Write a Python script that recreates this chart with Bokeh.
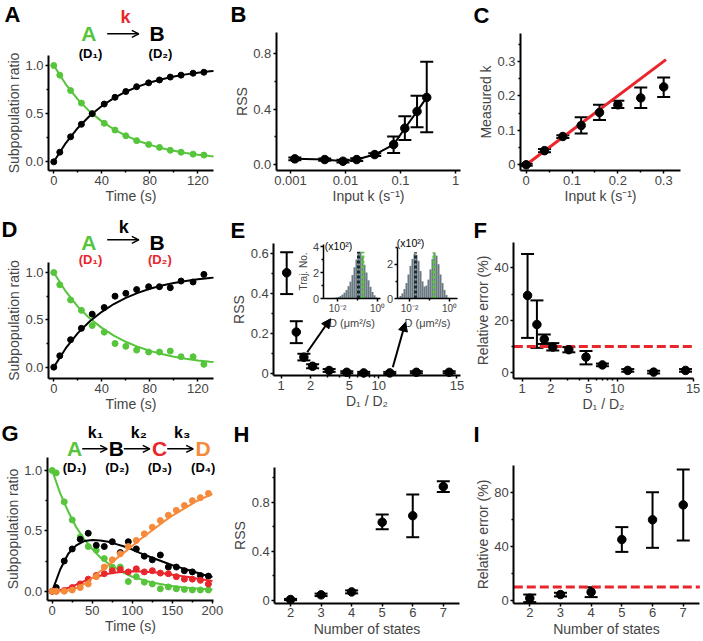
import math
from bokeh.plotting import figure
from bokeh.models import (Range1d, FixedTicker, Label, Arrow, OpenHead, NormalHead,
                          TeeHead, Whisker, ColumnDataSource, LinearAxis, LogAxis, LogScale)
from bokeh.layouts import row, column
from bokeh.embed import file_html
from bokeh.resources import INLINE

FONT = "Liberation Sans"
GREEN = "#56c53b"
RED = "#e8262b"
ORANGE = "#f68a3b"
GRAY = "#6b7a82"
DARK = "#1c2b31"

# ---------------- data ----------------
# Panel A
A_TIME = [0, 5, 14, 23, 32, 42, 51, 60, 69, 79, 88, 97, 106, 116, 125]
A_GREEN = [1.00, 0.90, 0.74, 0.61, 0.50, 0.40, 0.33, 0.27, 0.22, 0.18, 0.15, 0.12, 0.10, 0.08, 0.07]
A_BLACK = [0.00, 0.10, 0.26, 0.39, 0.50, 0.60, 0.67, 0.73, 0.78, 0.82, 0.85, 0.88, 0.90, 0.92, 0.93]
A_FIT_T = [0, 10, 20, 30, 40, 50, 60, 70, 80, 90, 100, 110, 120, 130, 133]
A_FIT_GREEN = [1.0, 0.805, 0.648, 0.521, 0.42, 0.338, 0.272, 0.219, 0.176, 0.142, 0.114, 0.092, 0.074, 0.06, 0.056]
A_FIT_BLACK = [0.0, 0.195, 0.352, 0.479, 0.58, 0.662, 0.728, 0.781, 0.824, 0.858, 0.886, 0.908, 0.926, 0.94, 0.944]

# Panel B
B_K = [0.0012, 0.0042, 0.009, 0.016, 0.034, 0.075, 0.12, 0.2, 0.3]
B_RSS = [0.041, 0.036, 0.024, 0.036, 0.072, 0.144, 0.262, 0.384, 0.485]
B_LO = [0.031, 0.028, 0.014, 0.026, 0.062, 0.084, 0.178, 0.269, 0.233]
B_HI = [0.051, 0.044, 0.034, 0.046, 0.082, 0.202, 0.348, 0.497, 0.742]

# Panel C
C_K = [0.0, 0.04, 0.08, 0.12, 0.16, 0.2, 0.25, 0.3]
C_MEAS = [0.0, 0.041, 0.082, 0.114, 0.152, 0.174, 0.194, 0.226]
C_LO = [-0.003, 0.036, 0.078, 0.091, 0.130, 0.165, 0.165, 0.197]
C_HI = [0.003, 0.046, 0.086, 0.138, 0.174, 0.186, 0.224, 0.253]
C_IDENT = [0.0, 0.305]

# Panel D
D_TIME = A_TIME
D_GREEN = [1.0, 0.87, 0.71, 0.60, 0.44, 0.37, 0.25, 0.22, 0.18, 0.16, 0.16, 0.17, 0.11, 0.11, 0.03]
D_BLACK = [0.0, 0.12, 0.29, 0.41, 0.56, 0.63, 0.75, 0.78, 0.82, 0.85, 0.85, 0.84, 0.91, 0.90, 0.98]
D_FIT_T = A_FIT_T
D_FIT_GREEN = [1.0, 0.80, 0.64, 0.515, 0.415, 0.333, 0.268, 0.215, 0.172, 0.138, 0.111, 0.089, 0.071, 0.057, 0.054]
D_FIT_BLACK = [0.0, 0.20, 0.36, 0.485, 0.585, 0.667, 0.732, 0.785, 0.828, 0.862, 0.889, 0.911, 0.929, 0.943, 0.946]

# Panels E / F (D1/D2 ratio)
RATIO = [1.14, 1.43, 1.71, 2.1, 3.1, 4.7, 7.0, 10.7, 12.4, 14.5]
E_RSS = [0.503, 0.208, 0.083, 0.038, 0.017, 0.008, 0.005, 0.005, 0.008, 0.008]
E_LO = [0.397, 0.153, 0.067, 0.028, 0.010, 0.003, 0.0, 0.0, 0.003, 0.003]
E_HI = [0.605, 0.262, 0.100, 0.048, 0.024, 0.013, 0.010, 0.010, 0.013, 0.013]
F_ERR = [29.5, 18.4, 12.8, 9.8, 8.8, 6.0, 3.0, 0.9, 0.25, 0.9]
F_LO = [13.3, 9.5, 11.0, 8.5, 7.8, 3.2, 2.5, 0.4, -0.25, 0.4]
F_HI = [45.3, 27.6, 14.6, 11.3, 9.8, 8.3, 3.5, 1.4, 0.75, 1.4]
THRESHOLD = 10
RATIO_TICKS = [1, 2, 5, 10, 15]
RATIO_MINOR = [3, 4, 6, 7, 8, 9]

# E insets: histograms of log10 D (bin centres) and counts (x10^2)
H1_LOGD = [-2.35, -2.25, -2.15, -2.05, -1.95, -1.85, -1.75, -1.65, -1.55, -1.45, -1.35, -1.25,
           -1.15, -1.05, -0.95, -0.85, -0.75, -0.65, -0.55, -0.45, -0.35, -0.25, -0.15, -0.05]
H1_COUNT = [0.0, 0.02, 0.05, 0.08, 0.12, 0.2, 0.3, 0.45, 0.65, 0.95, 1.3, 1.8,
            2.4, 3.0, 3.5, 3.6, 3.2, 2.6, 2.0, 1.4, 0.9, 0.5, 0.25, 0.08]
H1_DASH_D = [0.112, 0.186]
H1_DASH_H = 3.6
H2_LOGD = [-2.55, -2.45, -2.35, -2.25, -2.15, -2.05, -1.95, -1.85, -1.75, -1.65, -1.55, -1.45, -1.35,
           -1.25, -1.15, -1.05, -0.95, -0.85, -0.75, -0.65, -0.55, -0.45, -0.35, -0.25, -0.15, -0.05]
H2_COUNT = [0.05, 0.15, 0.3, 0.55, 0.9, 1.4, 1.9, 2.3, 2.6, 2.55, 2.2, 1.6, 1.0,
            0.7, 0.75, 1.1, 1.7, 2.3, 2.65, 2.5, 2.0, 1.4, 0.9, 0.5, 0.2, 0.05]
H2_DASH_D = [0.02, 0.166]
H2_DASH_H = 2.7

# Panel G
G_TIME = [0, 5, 15, 25, 35, 45, 55, 65, 75, 85, 95, 105, 115, 125, 135, 145, 155, 165, 175, 185, 195]
G_GREEN = [1.0, 0.98, 0.74, 0.59, 0.45, 0.37, 0.34, 0.27, 0.20, 0.20, 0.08, 0.12, 0.075, 0.06, 0.02, 0.035, 0.02, 0.015, 0.01, 0.01, 0.01]
G_BLACK = [0.0, 0.03, 0.25, 0.35, 0.43, 0.48, 0.38, 0.37, 0.41, 0.32, 0.41, 0.35, 0.29, 0.26, 0.30, 0.20, 0.20, 0.17, 0.16, 0.13, 0.125]
G_RED = [0.0, 0.0, 0.005, 0.03, 0.06, 0.10, 0.13, 0.145, 0.17, 0.18, 0.16, 0.185, 0.16, 0.17, 0.15, 0.145, 0.12, 0.10, 0.10, 0.09, 0.06]
G_ORANGE = [0.0, 0.0, 0.0, 0.01, 0.03, 0.06, 0.12, 0.20, 0.26, 0.31, 0.37, 0.42, 0.475, 0.53, 0.585, 0.63, 0.67, 0.71, 0.75, 0.775, 0.81]
G_FIT_T = [0, 10, 20, 30, 40, 50, 60, 70, 80, 90, 100, 110, 120, 130, 140, 150, 160, 170, 180, 190, 200]
G_FIT_GREEN = [1.0, 0.81, 0.66, 0.53, 0.43, 0.35, 0.28, 0.23, 0.19, 0.15, 0.12, 0.10, 0.08, 0.065, 0.053, 0.043, 0.035, 0.028, 0.023, 0.018, 0.015]
G_FIT_BLACK = [0.0, 0.18, 0.31, 0.38, 0.415, 0.425, 0.42, 0.41, 0.39, 0.37, 0.345, 0.315, 0.29, 0.265, 0.24, 0.215, 0.195, 0.175, 0.155, 0.135, 0.118]
G_FIT_RED = [0.0, 0.008, 0.028, 0.055, 0.083, 0.108, 0.128, 0.144, 0.155, 0.162, 0.165, 0.164, 0.16, 0.154, 0.146, 0.137, 0.127, 0.117, 0.106, 0.095, 0.084]
G_FIT_ORANGE = [0.0, 0.0, 0.005, 0.025, 0.06, 0.11, 0.165, 0.215, 0.27, 0.32, 0.375, 0.43, 0.48, 0.53, 0.58, 0.625, 0.665, 0.705, 0.745, 0.775, 0.805]

# Panels H / I
STATES = [2, 3, 4, 5, 6, 7]
H_RSS = [0.008, 0.046, 0.07, 0.637, 0.69, 0.927]
H_LO = [0.003, 0.036, 0.058, 0.58, 0.515, 0.884]
H_HI = [0.013, 0.056, 0.082, 0.70, 0.862, 0.97]
I_ERR = [1.7, 4.4, 6.2, 45.0, 59.6, 70.6]
I_LO = [-1.2, 3.0, 2.5, 35.9, 38.9, 44.3]
I_HI = [4.4, 5.7, 9.8, 54.2, 80.0, 96.7]


# ---------------- helpers ----------------
def ratio_pos(r):
    # broken axis: logarithmic up to 10, linear beyond
    return math.log10(r) if r <= 10 else 1 + 0.16 * (r - 10)


class Panel:
    """Whole canvas is the plot frame; the axes are drawn at fixed locations inside it."""

    def __init__(self, W, H, box, data, xlog=False):
        fl, fr, ft, fb = box
        x0, x1, y0, y1 = data
        self.W, self.H, self.xlog = W, H, xlog
        if xlog:
            a, b = math.log10(x0), math.log10(x1)
            per = (b - a) / (fr - fl)
            xs, xe = 10 ** (a - fl * per), 10 ** (b + (W - fr) * per)
        else:
            per = (x1 - x0) / (fr - fl)
            xs, xe = x0 - fl * per, x1 + (W - fr) * per
        per = (y1 - y0) / (fb - ft)
        ys, ye = y0 - (H - fb) * per, y1 + ft * per
        self.xs, self.xe, self.ys, self.ye = xs, xe, ys, ye
        self.x0, self.x1, self.y0, self.y1 = x0, x1, y0, y1
        p = figure(width=W, height=H, x_range=Range1d(xs, xe), y_range=Range1d(ys, ye),
                   x_axis_type="log" if xlog else "linear", output_backend="svg",
                   toolbar_location=None, tools="", title=None)
        p.min_border_left = 0
        p.min_border_right = 0
        p.min_border_top = 0
        p.min_border_bottom = 0
        p.outline_line_color = None
        p.xgrid.visible = False
        p.ygrid.visible = False
        p.background_fill_color = "white"
        p.border_fill_color = "white"
        p.xaxis[0].fixed_location = y0
        p.xaxis[0].bounds = (x0, x1)
        p.yaxis[0].fixed_location = x0
        p.yaxis[0].bounds = (y0, y1)
        self.p = p

    def to_data(self, px, py):
        f = px / self.W
        if self.xlog:
            a, b = math.log10(self.xs), math.log10(self.xe)
            x = 10 ** (a + f * (b - a))
        else:
            x = self.xs + f * (self.xe - self.xs)
        g = (self.H - py) / self.H
        y = self.ys + g * (self.ye - self.ys)
        return x, y

    def text(self, px, py, s, size, color="black", bold=True, align="center", baseline="middle"):
        x, y = self.to_data(px, py)
        self.p.add_layout(Label(x=x, y=y, text=s, text_font=FONT, text_font_size=f"{size}px",
                                text_font_style="bold" if bold else "normal", text_color=color,
                                text_align=align, text_baseline=baseline))

    def arrow(self, sx, sy, ex, ey, head, width):
        x0, y0 = self.to_data(sx, sy)
        x1, y1 = self.to_data(ex, ey)
        self.p.add_layout(Arrow(end=head, x_start=x0, y_start=y0, x_end=x1, y_end=y1,
                                line_width=width, line_color="black"))

    def harrow(self, px0, px1, py):
        self.arrow(px0, py, px1, py, OpenHead(size=7, line_width=1.5, line_color="black"), 1.5)

    def letter(self, px, py, s):
        self.text(px, py, s, 22, align="left", baseline="middle")

    def threshold(self, level):
        self.p.segment(x0=[self.x0], y0=[level], x1=[self.x1], y1=[level], line_color=RED,
                       line_width=3, line_dash="9 4")


def style_axis(ax, label, tick_size=13, label_size=14):
    ax.axis_label = label
    ax.axis_label_text_font = FONT
    ax.axis_label_text_font_size = f"{label_size}px"
    ax.axis_label_text_font_style = "normal"
    ax.axis_label_standoff = 0
    ax.major_label_text_font = FONT
    ax.major_label_text_font_size = f"{tick_size}px"
    ax.major_label_standoff = 2
    ax.axis_line_width = 2
    ax.axis_line_color = "black"
    ax.major_tick_line_width = 1.5
    ax.minor_tick_line_width = 1.5
    ax.major_tick_out = 3
    ax.major_tick_in = 0
    ax.minor_tick_out = 2
    ax.minor_tick_in = 0


def set_ticks(ax, major, labels, minor=()):
    ax.ticker = FixedTicker(ticks=list(major), minor_ticks=list(minor))
    ax.major_label_overrides = {m: l for m, l in zip(major, labels)}


def setup(P, xlabel, ylabel, xt, xl, xm, yt, yl, ym):
    style_axis(P.p.xaxis[0], xlabel)
    style_axis(P.p.yaxis[0], ylabel)
    set_ticks(P.p.xaxis[0], xt, xl, xm)
    set_ticks(P.p.yaxis[0], yt, yl, ym)


def errbars(p, x, lo, hi, cap=13, width=2):
    src = ColumnDataSource(dict(x=list(x), lo=list(lo), hi=list(hi)))
    p.add_layout(Whisker(source=src, base="x", lower="lo", upper="hi",
                         line_width=width, line_color="black",
                         upper_head=TeeHead(size=cap, line_width=width, line_color="black"),
                         lower_head=TeeHead(size=cap, line_width=width, line_color="black")))


# ---------------- Panel A ----------------
PA = Panel(230, 210, (48, 213, 55, 170), (-4.4, 133, -0.09, 1.104))
setup(PA, "Time (s)", "Subpopulation ratio", [0, 40, 80, 120], ["0", "40", "80", "120"], [20, 60, 100],
      [0, 0.5, 1.0], ["0.0", "0.5", "1.0"], [0.25, 0.75])
PA.p.line(A_FIT_T, A_FIT_GREEN, line_width=2, color=GREEN)
PA.p.line(A_FIT_T, A_FIT_BLACK, line_width=2, color="black")
PA.p.scatter(A_TIME, A_GREEN, size=6, color=GREEN)
PA.p.scatter(A_TIME, A_BLACK, size=6, color="black")
PA.letter(4, 14, "A")
PA.text(125, 16, "k", 18, color=RED)
PA.text(88.3, 33.3, "A", 21, color=GREEN)
PA.harrow(106.7, 138.3, 33.3)
PA.text(156.7, 33.3, "B", 21)
PA.text(90, 53.3, "(D\u2081)", 13)
PA.text(160, 53.3, "(D\u2082)", 13)

# ---------------- Panel B ----------------
PB = Panel(235, 210, (45.7, 230, 31.7, 170), (5.5e-4, 1.233, -0.043, 0.956), xlog=True)
setup(PB, "Input k (s\u207b\u00b9)", "RSS", [0.001, 0.01, 0.1, 1], ["0.001", "0.01", "0.1", "1"], [],
      [0, 0.4, 0.8], ["0.0", "0.4", "0.8"], [0.2, 0.6])
PB.p.line(B_K, B_RSS, line_width=2, color="black")
errbars(PB.p, B_K, B_LO, B_HI)
PB.p.scatter(B_K, B_RSS, size=8.5, color="black")
PB.letter(0, 14, "B")

# ---------------- Panel C ----------------
PC = Panel(238, 210, (55, 215, 33.3, 170), (-0.0124, 0.3367, -0.0166, 0.38))
setup(PC, "Input k (s\u207b\u00b9)", "Measured k", [0, 0.1, 0.2, 0.3], ["0", "0.1", "0.2", "0.3"],
      [0.05, 0.15, 0.25], [0, 0.1, 0.2, 0.3], ["0", "0.1", "0.2", "0.3"], [0.05, 0.15, 0.25, 0.35])
PC.p.line(C_IDENT, C_IDENT, line_width=3, color=RED)
errbars(PC.p, C_K, C_LO, C_HI)
PC.p.scatter(C_K, C_MEAS, size=8.5, color="black")
PC.letter(8, 15, "C")

# ---------------- Panel D ----------------
PD = Panel(230, 210, (48, 213, 51.7, 168.3), (-4.4, 133, -0.123, 1.109))
setup(PD, "Time (s)", "Subpopulation ratio", [0, 40, 80, 120], ["0", "40", "80", "120"], [20, 60, 100],
      [0, 0.5, 1.0], ["0.0", "0.5", "1.0"], [0.25, 0.75])
PD.p.line(D_FIT_T, D_FIT_GREEN, line_width=2, color=GREEN)
PD.p.line(D_FIT_T, D_FIT_BLACK, line_width=2, color="black")
PD.p.scatter(D_TIME, D_GREEN, size=6, color=GREEN)
PD.p.scatter(D_TIME, D_BLACK, size=6, color="black")
PD.letter(1, 19, "D")
PD.text(123.3, 16.7, "k", 18)
PD.text(88.3, 31.7, "A", 21, color=GREEN)
PD.harrow(106.7, 138.3, 29.3)
PD.text(156.7, 31.7, "B", 21)
PD.text(90, 49.3, "(D\u2081)", 13, color=RED)
PD.text(159.3, 49.3, "(D\u2082)", 13, color=RED)

# ---------------- Panel E ----------------
RPOS = [ratio_pos(r) for r in RATIO]
TPOS = [ratio_pos(r) for r in RATIO_TICKS]
MPOS = [ratio_pos(r) for r in RATIO_MINOR]
PE = Panel(235, 210, (43.3, 230, 33.3, 165), (-0.075, 1.836, -0.008, 0.647))
setup(PE, "D\u2081 / D\u2082", "RSS", TPOS, [str(t) for t in RATIO_TICKS], MPOS,
      [0, 0.2, 0.4, 0.6], ["0", "0.2", "0.4", "0.6"], [0.1, 0.3, 0.5])
errbars(PE.p, RPOS, E_LO, E_HI)
PE.p.scatter(RPOS, E_RSS, size=8.5, color="black")
PE.letter(0, 20, "E")
for (sx, sy, ex, ey) in [(76.7, 141.7, 100, 108.3), (162.3, 156.7, 175, 111.7)]:
    PE.arrow(sx, sy, ex, ey, NormalHead(size=9, fill_color="black", line_color="black"), 2)


def add_inset(P, name, xref, ppd, y0px, ppu, xb, ytop, logd, counts, dash_d, dash_h,
              yticks, yminor, ylabel):
    nx, ny = name + "x", name + "y"
    xr = Range1d(10 ** (-2 + (0 - xref) / ppd), 10 ** (-2 + (P.W - xref) / ppd))
    yr = Range1d((y0px - P.H) / ppu, (y0px - 0) / ppu)
    P.p.extra_x_ranges = {**P.p.extra_x_ranges, nx: xr}
    P.p.extra_y_ranges = {**P.p.extra_y_ranges, ny: yr}
    P.p.extra_x_scales = {**P.p.extra_x_scales, nx: LogScale()}
    left = [10 ** (c - 0.05) for c in logd]
    right = [10 ** (c + 0.05) for c in logd]
    P.p.quad(left=left, right=right, bottom=0, top=counts, fill_color=GRAY, line_color=None,
             x_range_name=nx, y_range_name=ny)
    for d, col in zip(dash_d, [DARK, GREEN]):
        P.p.segment(x0=[d], y0=[0], x1=[d], y1=[dash_h], line_color=col, line_width=3,
                    line_dash="3 2", x_range_name=nx, y_range_name=ny)
    xlo = 10 ** (-2 + (xb[0] - xref) / ppd)
    xhi = 10 ** (-2 + (xb[1] - xref) / ppd)
    xa = LogAxis(x_range_name=nx, y_range_name=ny, fixed_location=0, bounds=(xlo, xhi))
    style_axis(xa, "D (\u03bcm\u00b2/s)", tick_size=10, label_size=11)
    xa.axis_line_width = 1.5
    xa.axis_label_standoff = 0
    xa.major_label_standoff = 1
    xa.major_tick_out = 3
    set_ticks(xa, [0.01, 1], ["10\u207b\u00b2", "10\u2070"], [0.1])
    P.p.add_layout(xa, "below")
    ya = LinearAxis(x_range_name=nx, y_range_name=ny, fixed_location=xlo, bounds=(0, ytop))
    style_axis(ya, ylabel, tick_size=11, label_size=10)
    ya.axis_line_width = 1.5
    ya.major_label_standoff = 1
    ya.axis_label_standoff = 1
    ya.major_tick_out = 3
    set_ticks(ya, yticks, [str(t) for t in yticks], yminor)
    P.p.add_layout(ya, "left")


add_inset(PE, "i1", 107, 20, 88, 13, (92.7, 150), 4.15, H1_LOGD, H1_COUNT, H1_DASH_D, H1_DASH_H,
          [0, 2, 4], [1, 3], "Traj. No.")
add_inset(PE, "i2", 179, 20, 88, 17.15, (166.7, 226.7), 3.0, H2_LOGD, H2_COUNT, H2_DASH_D, H2_DASH_H,
          [0, 2], [1, 3], "")
PE.text(108, 35.3, "(x10\u00b2)", 10.5, bold=False)
PE.text(180, 32.7, "(x10\u00b2)", 10.5, bold=False)

# ---------------- Panel F ----------------
PF = Panel(238, 210, (48.3, 228.3, 31.7, 168.3), (-0.088, 1.807, -2.3, 49.8))
setup(PF, "D\u2081 / D\u2082", "Relative error (%)", TPOS, [str(t) for t in RATIO_TICKS], MPOS,
      [0, 20, 40], ["0", "20", "40"], [10, 30])
PF.threshold(THRESHOLD)
errbars(PF.p, RPOS, F_LO, F_HI)
PF.p.scatter(RPOS, F_ERR, size=8.5, color="black")
PF.letter(8, 20, "F")

# ---------------- Panel G ----------------
PG = Panel(230, 221, (46.7, 212.7, 36.7, 180), (-6.25, 201, -0.077, 1.11))
setup(PG, "Time (s)", "Subpopulation ratio", [0, 50, 100, 150, 200], ["0", "50", "100", "150", "200"],
      [25, 75, 125, 175], [0, 0.5, 1.0], ["0.0", "0.5", "1.0"], [0.25, 0.75])
for fit, pts, col in [(G_FIT_GREEN, G_GREEN, GREEN), (G_FIT_BLACK, G_BLACK, "black"),
                      (G_FIT_RED, G_RED, RED), (G_FIT_ORANGE, G_ORANGE, ORANGE)]:
    PG.p.line(G_FIT_T, fit, line_width=2, color=col)
    PG.p.scatter(G_TIME, pts, size=6, color=col)
PG.letter(1, 13, "G")
for px, s, col in [(74.2, "A", GREEN), (115.8, "B", "black"), (159.2, "C", RED), (202.5, "D", ORANGE)]:
    PG.text(px, 28.3, s, 21, color=col)
for a, b in [(81.7, 106.7), (123.3, 149.3), (166.7, 192.7)]:
    PG.harrow(a, b, 28.3)
for px, s in [(95, "k\u2081"), (138.3, "k\u2082"), (181.7, "k\u2083")]:
    PG.text(px, 11.7, s, 16)
for px, s in [(74, "(D\u2081)"), (116.7, "(D\u2082)"), (159.3, "(D\u2083)"), (202.7, "(D\u2084)")]:
    PG.text(px, 46.7, s, 13)

# ---------------- Panel H ----------------
PH = Panel(235, 221, (44.3, 229.3, 46.7, 182.7), (1.485, 7.54, -0.022, 1.085))
setup(PH, "Number of states", "RSS", STATES, [str(s) for s in STATES], [],
      [0, 0.4, 0.8], ["0", "0.4", "0.8"], [0.2, 0.6, 1.0])
errbars(PH.p, STATES, H_LO, H_HI)
PH.p.scatter(STATES, H_RSS, size=8.5, color="black")
PH.letter(3, 14, "H")

# ---------------- Panel I ----------------
PI = Panel(238, 221, (48.3, 234.3, 45, 182.7), (1.48, 7.54, -2.0, 99.7))
setup(PI, "Number of states", "Relative error (%)", STATES, [str(s) for s in STATES], [],
      [0, 40, 80], ["0", "40", "80"], [20, 60])
PI.threshold(THRESHOLD)
errbars(PI.p, STATES, I_LO, I_HI)
PI.p.scatter(STATES, I_ERR, size=8.5, color="black")
PI.letter(8, 14, "I")

layout = column(row(PA.p, PB.p, PC.p), row(PD.p, PE.p, PF.p), row(PG.p, PH.p, PI.p))
open("out.html", "w").write(file_html(layout, INLINE))
